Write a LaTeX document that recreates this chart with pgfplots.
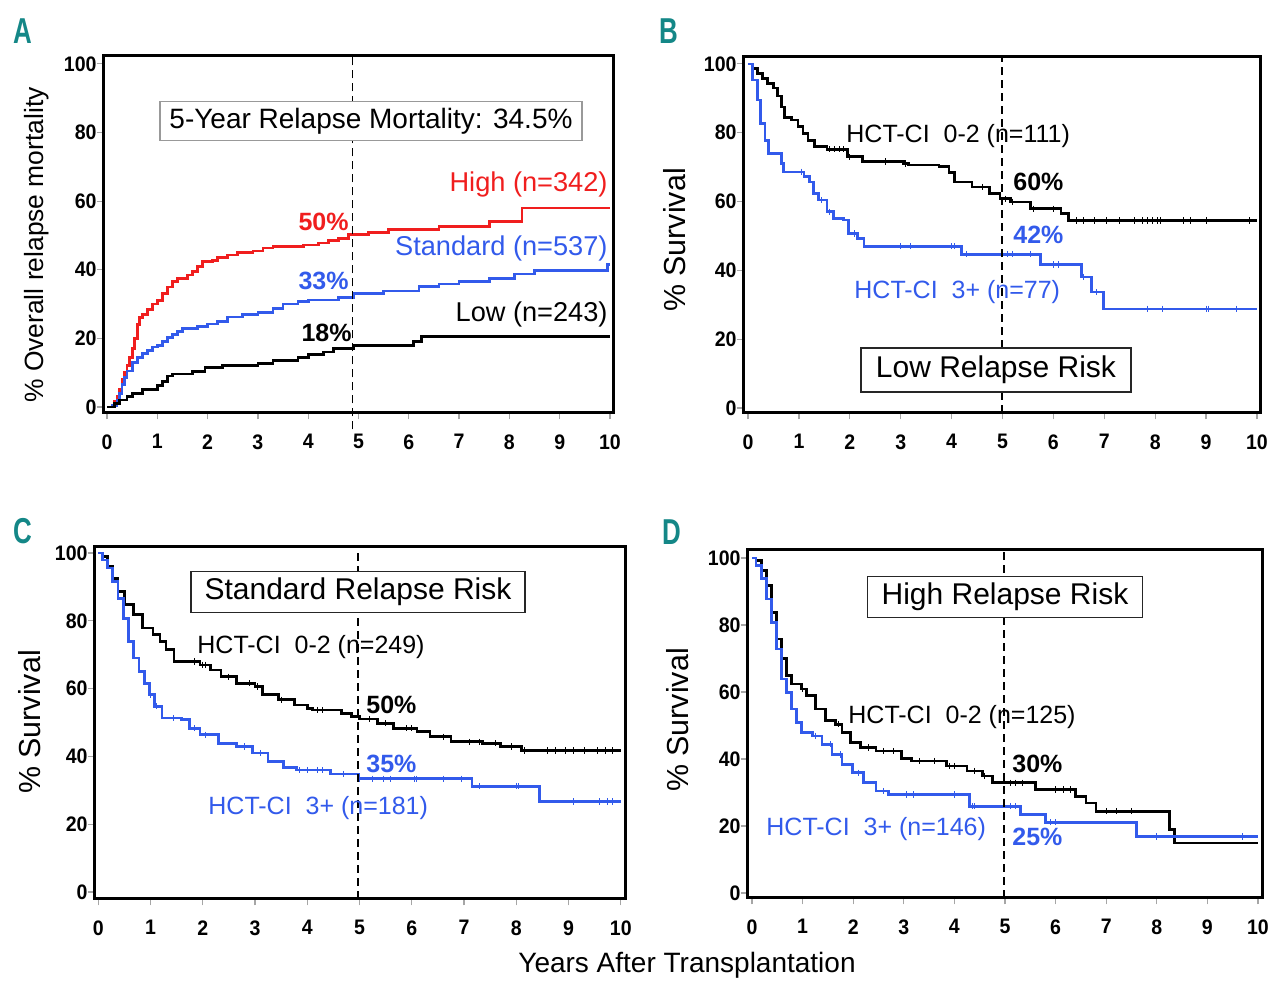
\documentclass[border=0pt]{standalone}
\usepackage{fontspec}
\setmainfont{Liberation Sans}
\usepackage{pgfplots}
\pgfplotsset{compat=1.18}
\definecolor{kmred}{RGB}{240,30,30}
\definecolor{kmblue}{RGB}{50,90,235}
\definecolor{panel}{RGB}{20,135,135}
\newcommand{\txt}{\fontsize{14}{16}\selectfont}
\newcommand{\hct}{\fontsize{12.5}{14}\selectfont}
\newcommand{\boxt}{\fontsize{15}{17}\selectfont}
\newcommand{\pct}{\bfseries\fontsize{12.5}{14}\selectfont}

\pgfplotsset{
  km/.style={
    scale only axis, anchor=south west, clip=false,
    axis line style={line width=1.5pt},
    tick style={gray!70, line width=0.6pt},
    tick align=outside, major tick length=3.2pt, tick pos=left,
    xtick={0,1,...,10}, ytick={0,20,...,100},
    ticklabel style={font=\bfseries\fontsize{10.5}{12}\selectfont\addfontfeature{FakeStretch=0.93}},
    /pgf/number format/assume math mode=true,
    xticklabel style={yshift=-4pt},
    yticklabel style={xshift=3.5pt},
  },
  step/.style={const plot, no marks, line width=1.35pt},
  cens/.style={only marks, mark=|, mark size=1.6pt, mark options={line width=0.5pt}},
  fiveyr/.style={no marks, black, line width=0.8pt, dash pattern=on 4pt off 2.5pt},
}

\begin{document}
\begin{tikzpicture}
\path[use as bounding box] (0,0) rectangle (640pt,494.5pt);

% ---------- A ----------
\begin{axis}[km, at={(51.5pt,288pt)}, width=255pt, height=178.5pt,
  xmin=-0.08, xmax=10.06, ymin=-1.75, ymax=102.3]
\addplot[step, kmred] coordinates {
(0,0) (0.1,0.5) (0.15,1.5) (0.2,3) (0.25,5) (0.3,8) (0.35,10) (0.4,12) (0.45,14.5)
(0.5,17) (0.55,20) (0.6,24) (0.65,26) (0.7,27) (0.8,28.5) (0.9,30) (1.0,31) (1.1,33)
(1.2,35) (1.3,36.5) (1.4,37.5) (1.6,38.5) (1.7,39.5) (1.8,41) (1.9,42.3) (2.1,42.7)
(2.2,43.5) (2.4,44.3) (2.6,45) (2.9,45.5) (3.1,46.3) (3.3,46.8) (3.9,47.2) (4.2,47.8)
(4.4,48.5) (4.6,49.2) (4.8,50.2) (5.2,50.8) (5.6,51.8) (6.6,52.6) (7.6,54) (8.25,58) (10,58)};
\addplot[step, kmblue] coordinates {
(0,0) (0.1,0.5) (0.2,2) (0.25,4) (0.3,6.5) (0.35,8.5) (0.4,10.5) (0.5,13) (0.6,14.5)
(0.7,15.5) (0.8,16.5) (0.9,17.5) (1.0,18) (1.1,19) (1.2,20.3) (1.3,21.2) (1.4,22)
(1.5,22.8) (1.8,23.5) (2.0,24.2) (2.2,25) (2.4,26.2) (2.7,27) (3.0,27.6) (3.3,28.8)
(3.5,30) (3.8,30.8) (4.0,31.2) (4.6,32) (4.9,33) (5.5,33.8) (6.2,35.2) (6.6,35.8)
(7.0,36.6) (7.6,37.4) (8.1,38.8) (8.5,39.8) (9.95,41.5) (10,41.5)};
\addplot[step, black] coordinates {
(0,0) (0.15,1) (0.25,2) (0.4,3) (0.5,3.9) (0.7,5) (1.0,6.2) (1.1,7.5) (1.2,9) (1.3,9.6)
(1.7,10.3) (1.95,11.5) (2.3,12.1) (3.0,12.7) (3.3,13.6) (3.8,14.5) (4.0,15.3) (4.3,16)
(4.5,17) (4.9,18) (6.1,19) (6.25,20.5) (10,20.5)};
\addplot[fiveyr] coordinates {(4.88,-6.5) (4.88,102.3)};
\end{axis}

% ---------- B ----------
\begin{axis}[km, at={(371.5pt,288pt)}, width=258.5pt, height=178pt,
  xmin=-0.1, xmax=10.06, ymin=-1.45, ymax=102]
\addplot[step, black] coordinates {
(0,100) (0.08,98.7) (0.18,97.3) (0.28,95.8) (0.38,94.3) (0.5,93) (0.58,90.7) (0.65,87.5)
(0.72,84.5) (0.85,83.7) (0.98,81.7) (1.08,79.8) (1.18,77.7) (1.3,75.9) (1.55,75.2)
(1.95,73) (2.25,71.6) (3.05,71) (3.15,70.6) (3.75,70.1) (3.95,68.5) (4.05,65.7)
(4.4,64.2) (4.75,62.3) (4.95,60.8) (5.15,59.9) (5.55,57.9) (6.15,56.5) (6.3,54.5) (10,54.5)};
\addplot[cens, black] coordinates {
(1.6,75.2) (1.7,75.2) (1.8,75.2) (1.88,75.2) (2.0,73) (2.7,71.6) (3.1,71) (4.6,64.2)
(5.05,60.8) (5.2,59.9) (5.6,57.9) (6.0,57.9) (6.45,54.5) (6.6,54.5) (6.8,54.5) (7.05,54.5)
(7.3,54.5) (7.6,54.5) (7.75,54.5) (7.85,54.5) (7.95,54.5) (8.05,54.5) (8.1,54.5)
(8.55,54.5) (8.7,54.5) (9.0,54.5) (9.85,54.5)};
\addplot[step, kmblue] coordinates {
(0,100) (0.08,95.3) (0.18,89.5) (0.25,82.7) (0.33,77.8) (0.4,74) (0.65,71) (0.7,68.6)
(1.1,67.2) (1.2,65.7) (1.28,62.3) (1.38,60.4) (1.55,57) (1.68,55) (1.88,54.6) (1.98,50.7)
(2.15,49.2) (2.28,47) (4.2,44.7) (5.75,41.7) (6.55,38.1) (6.75,33.7) (6.98,28.8) (10,28.8)};
\addplot[cens, kmblue] coordinates {
(1.05,68.6) (1.45,60.4) (1.6,57) (2.1,50.7) (3.0,47) (3.2,47) (4.0,47) (4.05,47)
(4.3,44.7) (5.1,44.7) (5.2,44.7) (5.55,44.7) (6.0,41.7) (6.1,41.7) (6.6,38.1) (6.85,33.7)
(7.85,28.8) (8.15,28.8) (9.0,28.8) (9.05,28.8) (9.6,28.8)};
\addplot[fiveyr] coordinates {(4.99,-1.45) (4.99,102)};
\end{axis}

% ---------- C ----------
\begin{axis}[km, at={(47pt,45pt)}, width=265.5pt, height=176pt,
  xmin=-0.08, xmax=10.08, ymin=-2.07, ymax=101.8]
\addplot[step, black] coordinates {
(0,100) (0.08,99) (0.18,96) (0.28,92.6) (0.38,88.7) (0.5,84.8) (0.68,81.8) (0.85,77.9)
(1.05,75.9) (1.18,73.9) (1.3,71.5) (1.45,68) (1.95,67) (2.15,65.5) (2.35,63.5) (2.65,61.6)
(3.0,60.6) (3.15,58.2) (3.45,56.7) (3.75,55.2) (4.0,54.2) (4.1,53.7) (4.65,52.7)
(4.85,51.7) (5.0,51) (5.35,49.8) (5.65,48.3) (6.1,47.3) (6.35,45.8) (6.75,44.3)
(7.35,43.9) (7.7,42.9) (8.1,41.7) (10,41.7)};
\addplot[cens, black] coordinates {
(1.85,68) (2.0,67) (2.05,67) (2.5,63.5) (2.9,61.6) (3.05,60.6) (3.5,56.7) (4.2,53.7)
(4.3,53.7) (5.2,51) (5.5,49.8) (5.9,48.3) (6.0,48.3) (6.6,45.8) (7.1,44.3) (7.3,44.3)
(7.6,43.9) (7.9,42.9) (8.15,41.7) (8.6,41.7) (8.75,41.7) (8.95,41.7) (9.1,41.7)
(9.3,41.7) (9.55,41.7) (9.7,41.7) (9.85,41.7)};
\addplot[step, kmblue] coordinates {
(0,100) (0.08,98) (0.18,95.6) (0.28,91.6) (0.38,86.7) (0.48,80.8) (0.58,73.9) (0.68,69)
(0.78,65.1) (0.88,61.6) (0.98,58.2) (1.08,54.8) (1.22,51.3) (1.6,50.8) (1.75,48.3)
(1.95,46.4) (2.3,43.9) (2.65,42.9) (2.95,41) (3.25,38.5) (3.55,36.7) (3.8,36) (4.45,34.8)
(4.98,33.4) (7.15,31.2) (8.45,26.7) (10,26.7)};
\addplot[cens, kmblue] coordinates {
(1.0,58.2) (1.12,54.8) (1.45,51.3) (1.85,48.3) (2.05,46.4) (2.8,42.9) (3.1,41) (3.85,36)
(4.0,36) (4.2,36) (4.3,36) (4.7,34.8) (5.0,33.4) (5.25,33.4) (5.45,33.4) (5.6,33.4)
(6.05,33.4) (6.1,33.4) (6.6,33.4) (6.95,33.4) (7.3,31.2) (8.0,31.2) (8.05,31.2)
(9.1,26.7) (9.6,26.7) (9.75,26.7) (9.85,26.7)};
\addplot[fiveyr] coordinates {(4.97,-2.07) (4.97,101.8)};
\end{axis}

% ---------- D ----------
\begin{axis}[km, at={(373.5pt,45.5pt)}, width=257.5pt, height=174pt,
  xmin=-0.1, xmax=10.08, ymin=-1.5, ymax=102.4]
\addplot[step, black] coordinates {
(0,100) (0.08,99.3) (0.18,96.3) (0.28,91.8) (0.38,83.8) (0.48,75.8) (0.58,69.9)
(0.68,64.9) (0.78,62.4) (0.98,60.9) (1.08,58.9) (1.25,54.9) (1.45,51.4) (1.65,50.4)
(1.78,47.9) (1.95,44.9) (2.15,43.4) (2.45,42.4) (2.95,40.1) (3.15,39.4) (3.85,37.9)
(4.25,36.4) (4.55,34.9) (4.75,32.9) (5.6,30.9) (6.4,28.9) (6.6,26.9) (6.8,24.4)
(8.25,18.9) (8.35,14.9) (10,14.9)};
\addplot[cens, black] coordinates {
(1.0,60.9) (1.7,50.4) (2.3,43.4) (2.6,42.4) (2.8,42.4) (3.3,39.4) (3.6,39.4) (3.9,37.9)
(4.0,37.9) (4.4,36.4) (4.6,34.9) (5.1,32.9) (5.2,32.9) (5.35,32.9) (6.0,30.9) (6.15,30.9)
(6.3,30.9) (7.0,24.4) (7.2,24.4) (7.5,24.4)};
\addplot[step, kmblue] coordinates {
(0,100) (0.08,97.8) (0.18,93.8) (0.28,87.8) (0.38,80.8) (0.48,72.8) (0.58,63.9)
(0.68,59.9) (0.78,54.9) (0.88,50.9) (0.98,47.9) (1.2,46.9) (1.38,44.4) (1.58,41.4)
(1.78,38.4) (1.98,35.9) (2.2,32.9) (2.45,30.4) (2.7,29.4) (4.3,25.9) (5.3,23.4)
(5.8,21.1) (7.6,16.9) (10,16.9)};
\addplot[cens, kmblue] coordinates {
(1.25,46.9) (1.55,44.4) (1.75,41.4) (2.1,35.9) (2.6,30.4) (3.05,29.4) (3.2,29.4)
(4.0,29.4) (4.35,25.9) (4.4,25.9) (5.1,25.9) (5.2,25.9) (5.9,21.1) (6.0,21.1)
(8.0,16.9) (9.7,16.9)};
\addplot[fiveyr] coordinates {(4.98,-1.5) (4.98,102.4)};
\end{axis}

% ---------- text, in picture pixels ----------
\begin{scope}[x=0.5pt, y=-0.5pt, shift={(0pt,494.5pt)}]
\tikzset{lab/.style={inner sep=0pt, font=\hct}}
% panel letters
\foreach \p/\x/\y in {A/23/31, B/669/31, C/23/531, D/672/532}
  \node[inner sep=0pt, text=panel, font=\bfseries\fontsize{18}{20}\selectfont, xscale=0.72] at (\x,\y) {\p};
% axis titles
\node[inner sep=0pt, rotate=90, font=\fontsize{13.2}{15}\selectfont] at (37,245) {\% Overall relapse mortality};
\node[inner sep=0pt, rotate=90, font=\fontsize{15.2}{17}\selectfont] at (675,240) {\% Survival};
\node[inner sep=0pt, rotate=90, font=\fontsize{15.2}{17}\selectfont] at (30,722) {\% Survival};
\node[inner sep=0pt, rotate=90, font=\fontsize{15.2}{17}\selectfont] at (678,720) {\% Survival};
\node[inner sep=0pt, font=\txt] at (687,965) {Years After Transplantation};
% A
\node[draw=gray!80, fill=white, line width=0.6pt, minimum width=211pt, minimum height=19pt, font=\txt] at (371,121) {5-Year Relapse Mortality: 34.5\%};
\node[inner sep=0pt, font=\fontsize{13.6}{15}\selectfont, anchor=east, text=kmred] at (608,184) {High (n=342)};
\node[inner sep=0pt, font=\fontsize{13.6}{15}\selectfont, anchor=east, text=kmblue] at (608,248) {Standard (n=537)};
\node[inner sep=0pt, font=\fontsize{13.6}{15}\selectfont, anchor=east] at (608,314) {Low (n=243)};
\node[inner sep=0pt, anchor=east, text=kmred, font=\pct] at (349,222) {50\%};
\node[inner sep=0pt, anchor=east, text=kmblue, font=\pct] at (349,281) {33\%};
\node[inner sep=0pt, anchor=east, font=\pct] at (352,333) {18\%};
% B
\node[lab, anchor=west] at (846,136) {HCT-CI\ \ 0-2 (n=111)};
\node[lab, anchor=west, text=kmblue] at (854,292) {HCT-CI\ \ 3+ (n=77)};
\node[inner sep=0pt, anchor=west, font=\pct] at (1013,182) {60\%};
\node[inner sep=0pt, anchor=west, text=kmblue, font=\pct] at (1013,235) {42\%};
\node[draw=black!85, fill=white, line width=0.6pt, minimum width=135pt, minimum height=22pt, font=\boxt] at (996,370) {Low Relapse Risk};
% C
\node[draw=black!85, fill=white, line width=0.6pt, minimum width=167pt, minimum height=20pt, font=\boxt] at (358,592) {Standard Relapse Risk};
\node[lab, anchor=west] at (197,647) {HCT-CI\ \ 0-2 (n=249)};
\node[lab, anchor=west, text=kmblue] at (208,808) {HCT-CI\ \ 3+ (n=181)};
\node[inner sep=0pt, anchor=west, font=\pct] at (366,705) {50\%};
\node[inner sep=0pt, anchor=west, text=kmblue, font=\pct] at (366,764) {35\%};
% D
\node[draw=black!85, fill=white, line width=0.6pt, minimum width=137.5pt, minimum height=20pt, font=\boxt] at (1005,597) {High Relapse Risk};
\node[lab, anchor=west] at (848,717) {HCT-CI\ \ 0-2 (n=125)};
\node[lab, anchor=west, text=kmblue] at (766,829) {HCT-CI\ \ 3+ (n=146)};
\node[inner sep=0pt, anchor=west, font=\pct] at (1012,764) {30\%};
\node[inner sep=0pt, anchor=west, text=kmblue, font=\pct] at (1012,837) {25\%};
\end{scope}
\end{tikzpicture}
\end{document}
